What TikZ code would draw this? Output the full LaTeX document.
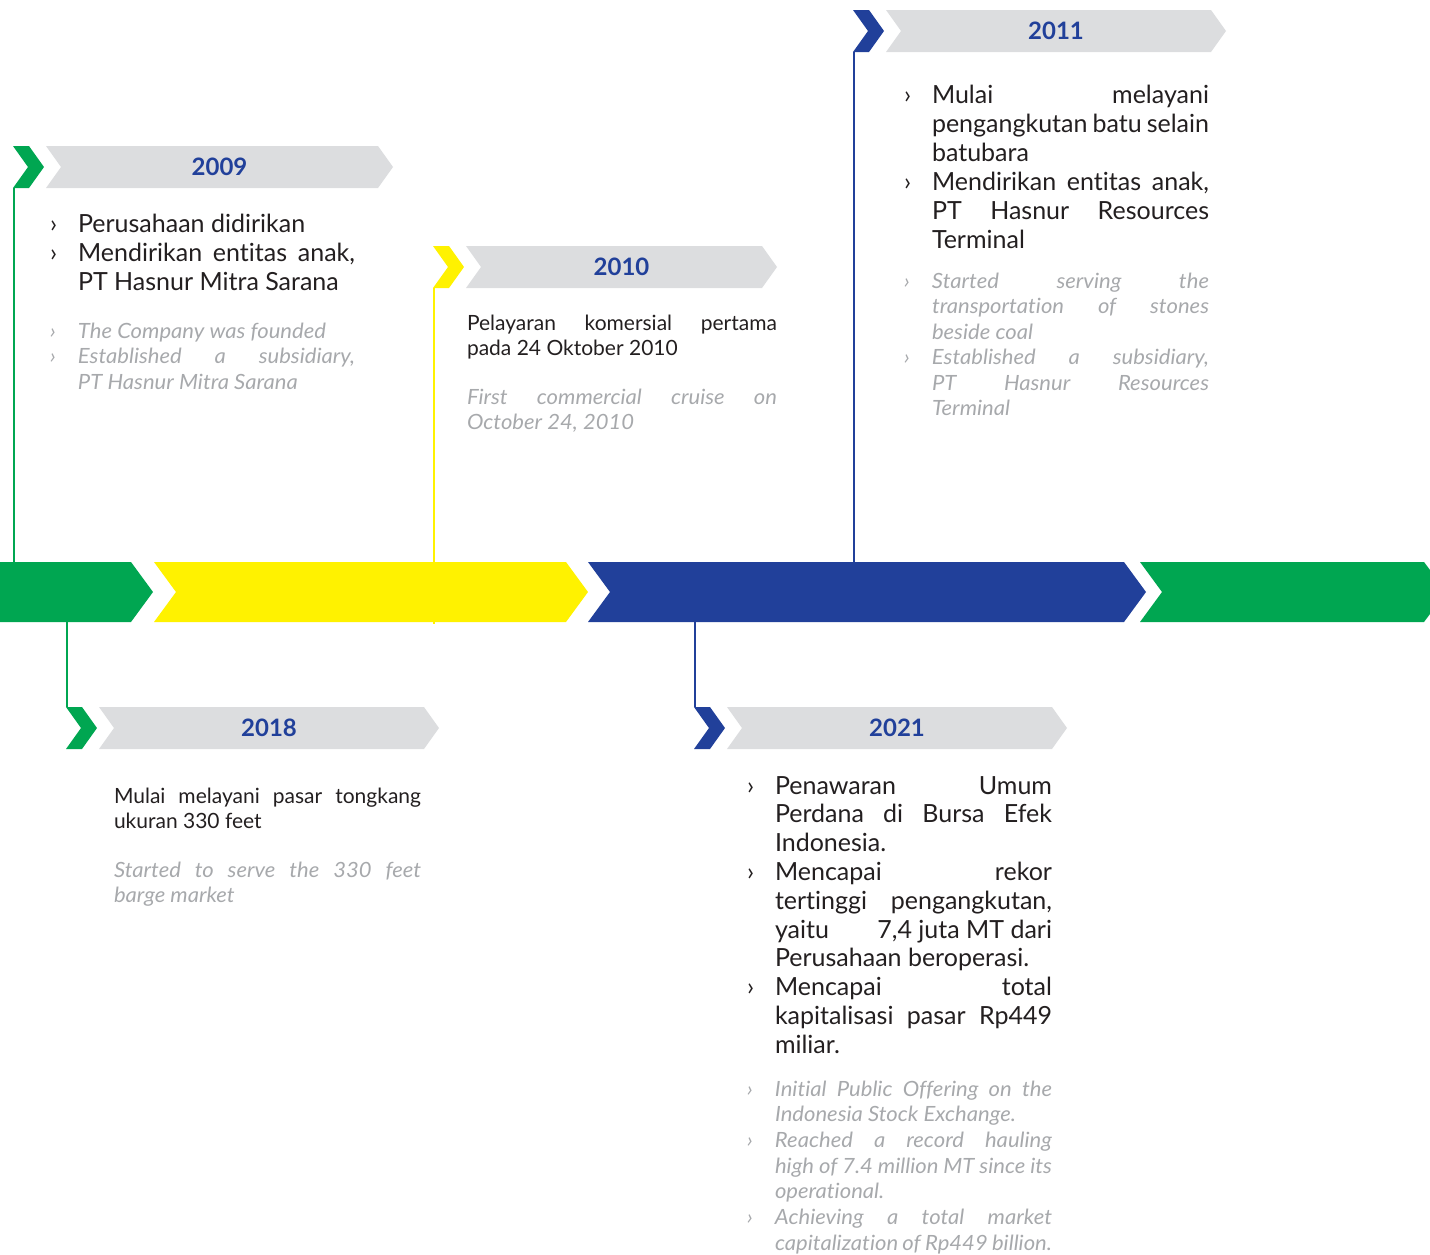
\documentclass[tikz,border=0pt]{standalone}
\usepackage{fontspec}
\setmainfont{Lato}[Ligatures={NoCommon,NoRare}, ItalicFeatures={FakeStretch=1.05}]
\definecolor{hgreen}{HTML}{00A651}
\definecolor{hyellow}{HTML}{FFF200}
\definecolor{hblue}{HTML}{21409A}
\definecolor{tagbg}{HTML}{DCDDDF}
\definecolor{maintxt}{HTML}{231F20}
\definecolor{greytxt}{HTML}{A7A9AC}
\newcommand\Jl[1]{\noindent\makebox[\linewidth][s]{#1}\par}
\newcommand\Ln[1]{\noindent #1\par}
\newcommand\Bu{\llap{\makebox[14pt][l]{›}}}
\newcommand\bigtxt{\fontsize{12.5pt}{14.5pt}\selectfont}
\newcommand\smalltxt{\fontsize{10.5pt}{12.75pt}\selectfont}
\tikzset{
  txt/.style={anchor=base west, inner sep=0pt, outer sep=0pt, text=maintxt},
  gtxt/.style={anchor=base west, inner sep=0pt, outer sep=0pt, text=greytxt},
  yeartxt/.style={inner sep=0pt, text=hblue, font=\fontsize{12pt}{14pt}\selectfont\bfseries},
  stem/.style={line width=1pt}
}
% #1 name, #2 x0, #3 y0, #4 right tip x, #5 colour, #6 year
\newcommand\yeartag[6]{%
  \fill[#5] (#2,#3) -- ++(16,0) -- ++(15,21) -- ++(-15,21) -- ++(-16,0) -- ++(15,-21) -- cycle;
  \fill[tagbg] ({#2+33},#3) -- ({#4-15},#3) -- (#4,{#3+21}) -- ({#4-15},{#3+42}) -- ({#2+33},{#3+42}) -- ({#2+48},{#3+21}) -- cycle;
  \node[yeartxt] (#1) at ({(#2+33+#4)/2},{#3+21}) {#6};
}
\begin{document}
\begin{tikzpicture}[x=0.5pt,y=-0.5pt]
\useasboundingbox (0,0) rectangle (1430,1254);
% main bar
\fill[hgreen] (0,562) -- (131,562) -- (153,592) -- (131,622) -- (0,622) -- cycle;
\fill[hyellow] (154,562) -- (566,562) -- (588,592) -- (566,622) -- (154,622) -- (176,592) -- cycle;
\fill[hblue] (588,562) -- (1124,562) -- (1146,592) -- (1124,622) -- (588,622) -- (610,592) -- cycle;
\fill[hgreen] (1140,562) -- (1424,562) -- (1430,570) -- (1430,614) -- (1424,622) -- (1140,622) -- (1162,592) -- cycle;
% bar anchor points
\coordinate (b2009) at (14,562);
\coordinate (b2010) at (434,624);
\coordinate (b2011) at (854,562);
\coordinate (b2018) at (67,622);
\coordinate (b2021) at (695,622);
\coordinate (t2009) at (14,188);
\coordinate (t2010) at (434,288);
\coordinate (t2011) at (854,52);
\coordinate (t2018) at (67,707);
\coordinate (t2021) at (695,707);
% stems
\draw[stem,hgreen] (t2009) -- (b2009);
\draw[stem,hyellow] (t2010) -- (b2010);
\draw[stem,hblue] (t2011) -- (b2011);
\draw[stem,hgreen] (b2018) -- (t2018);
\draw[stem,hblue] (b2021) -- (t2021);
% tags
\yeartag{y2009}{13}{146}{393}{hgreen}{2009}
\yeartag{y2010}{433}{246}{777}{hyellow}{2010}
\yeartag{y2011}{853}{10}{1226}{hblue}{2011}
\yeartag{y2018}{66}{707}{439}{hgreen}{2018}
\yeartag{y2021}{694}{707}{1067}{hblue}{2021}
% 2009
\node[txt] (m2009) at (78,232) {\parbox[t]{138.5pt}{\bigtxt
\Ln{\Bu Perusahaan didirikan}
\Jl{\Bu Mendirikan entitas anak,}
\Ln{PT Hasnur Mitra Sarana}}};
\node[gtxt] (g2009) at (78,338) {\parbox[t]{138.5pt}{\smalltxt\itshape
\Ln{\Bu The Company was founded}
\Jl{\Bu Established a subsidiary,}
\Ln{PT Hasnur Mitra Sarana}}};
% 2010
\node[txt] (m2010) at (467,330) {\parbox[t]{155pt}{\smalltxt
\Jl{Pelayaran komersial pertama}
\Ln{pada 24 Oktober 2010}}};
\node[gtxt] (g2010) at (467,404) {\parbox[t]{155pt}{\smalltxt\itshape
\Jl{First commercial cruise on}
\Ln{October 24, 2010}}};
% 2011
\node[txt] (m2011) at (932,103) {\parbox[t]{138.5pt}{\bigtxt
\Jl{\Bu Mulai melayani}
\Jl{pengangkutan batu selain}
\Ln{batubara}
\Jl{\Bu Mendirikan entitas anak,}
\Jl{PT Hasnur Resources}
\Ln{Terminal}}};
\node[gtxt] (g2011) at (932,288) {\parbox[t]{138.5pt}{\smalltxt\itshape
\Jl{\Bu Started serving the}
\Jl{transportation of stones}
\Ln{beside coal}
\Jl{\Bu Established a subsidiary,}
\Jl{PT Hasnur Resources}
\Ln{Terminal}}};
% 2018
\node[txt] (m2018) at (114,803) {\parbox[t]{153.5pt}{\smalltxt
\Jl{Mulai melayani pasar tongkang}
\Ln{ukuran 330 feet}}};
\node[gtxt] (g2018) at (114,877) {\parbox[t]{153.5pt}{\smalltxt\itshape
\Jl{Started to serve the 330 feet}
\Ln{barge market}}};
% 2021
\node[txt] (m2021) at (775,794) {\parbox[t]{138.5pt}{\fontsize{12.5pt}{14.4pt}\selectfont
\Jl{\Bu Penawaran Umum}
\Jl{Perdana di Bursa Efek}
\Ln{Indonesia.}
\Jl{\Bu Mencapai rekor}
\Jl{tertinggi pengangkutan,}
\Jl{yaitu\hfill 7,4 juta MT dari}
\Ln{Perusahaan beroperasi.}
\Jl{\Bu Mencapai total}
\Jl{kapitalisasi pasar Rp449}
\Ln{miliar.}}};
\node[gtxt] (g2021) at (775,1096) {\parbox[t]{138.5pt}{\fontsize{10.5pt}{12.85pt}\selectfont\itshape
\Jl{\Bu Initial Public Offering on the}
\Ln{Indonesia Stock Exchange.}
\Jl{\Bu Reached a record hauling}
\Jl{high of 7.4 million MT since its}
\Ln{operational.}
\Jl{\Bu Achieving a total market}
\Ln{capitalization of Rp449 billion.}}};
\end{tikzpicture}
\end{document}
